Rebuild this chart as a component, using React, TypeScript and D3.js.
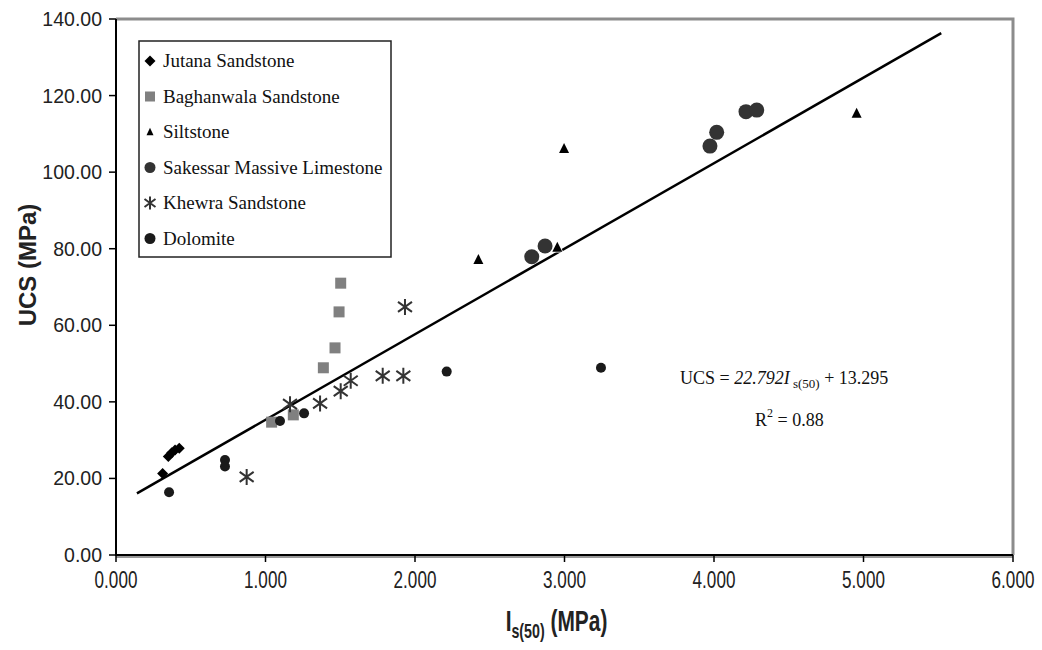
import React from "react";
import * as d3 from "d3";

const jutanaX = [0.312, 0.35, 0.373, 0.395, 0.423];
const jutanaY = [21.3, 25.7, 26.7, 27.4, 27.9];
const baghanwalaX = [1.041, 1.186, 1.387, 1.465, 1.492, 1.503];
const baghanwalaY = [34.7, 36.6, 48.9, 54.1, 63.5, 71.0];
const siltstoneX = [2.424, 2.952, 2.997, 4.954];
const siltstoneY = [77.2, 80.4, 106.2, 115.4];
const sakessarX = [2.781, 2.87, 3.973, 4.018, 4.214, 4.286];
const sakessarY = [77.9, 80.7, 106.8, 110.4, 115.8, 116.2];
const khewraX = [0.874, 1.164, 1.365, 1.503, 1.57, 1.784, 1.922, 1.933];
const khewraY = [20.4, 39.4, 39.6, 42.8, 45.5, 46.8, 46.8, 64.8];
const dolomiteX = [0.355, 0.729, 0.729, 1.097, 1.258, 2.212, 3.244];
const dolomiteY = [16.4, 24.8, 23.1, 35.0, 37.0, 47.9, 48.9];

const xTicks = [0, 1, 2, 3, 4, 5, 6];
const yTicks = [0, 20, 40, 60, 80, 100, 120, 140];
const legendNames = [
  "Jutana Sandstone",
  "Baghanwala Sandstone",
  "Siltstone",
  "Sakessar Massive Limestone",
  "Khewra Sandstone",
  "Dolomite",
];
// trend line end points as drawn in the picture
const trendX = [0.14, 5.52];
const trendY = [16.1, 136.3];

const L = 116, R = 1013, T = 19, B = 555;
const x = d3.scaleLinear().domain([0, 6]).range([L, R]);
const y = d3.scaleLinear().domain([0, 140]).range([B, T]);

const sans = "'Liberation Sans', Arial, sans-serif";
const serif = "'Liberation Serif', 'Times New Roman', serif";

function Marker({ kind, cx, cy, legend }: { kind: string; cx: number; cy: number; legend?: boolean }) {
  switch (kind) {
    case "diamond": {
      const h = 5.5;
      return <path d={`M${cx},${cy - h}L${cx + h},${cy}L${cx},${cy + h}L${cx - h},${cy}Z`} fill="#000" />;
    }
    case "square": {
      const s = legend ? 10 : 11;
      return <rect x={cx - s / 2} y={cy - s / 2} width={s} height={s} fill="#808080" />;
    }
    case "triangle": {
      const s = legend ? 7 : 10;
      const h = s * 0.9;
      return (
        <path
          d={`M${cx},${cy - h / 2 - 1}L${cx + s / 2},${cy + h / 2}L${cx - s / 2},${cy + h / 2}Z`}
          fill="#000"
          stroke="#fff"
          strokeWidth={legend ? 0 : 1.5}
          paintOrder="stroke"
        />
      );
    }
    case "bigcircle":
      return <circle cx={cx} cy={cy} r={legend ? 5.5 : 7.5} fill="#333" />;
    case "star": {
      const v = legend ? 6.5 : 8;
      const dx = legend ? 5.5 : 7;
      const dy = legend ? 4 : 5;
      return (
        <path
          d={`M${cx},${cy - v}L${cx},${cy + v}M${cx - dx},${cy - dy}L${cx + dx},${cy + dy}M${cx - dx},${cy + dy}L${cx + dx},${cy - dy}`}
          stroke="#333"
          strokeWidth={2}
          fill="none"
        />
      );
    }
    case "smallcircle":
      return <circle cx={cx} cy={cy} r={legend ? 5.5 : 5} fill="#1a1a1a" />;
    default:
      return null;
  }
}

const series = [
  { kind: "diamond", xs: jutanaX, ys: jutanaY },
  { kind: "square", xs: baghanwalaX, ys: baghanwalaY },
  { kind: "triangle", xs: siltstoneX, ys: siltstoneY },
  { kind: "bigcircle", xs: sakessarX, ys: sakessarY },
  { kind: "star", xs: khewraX, ys: khewraY },
  { kind: "smallcircle", xs: dolomiteX, ys: dolomiteY },
];

export default function App() {
  const line = d3
    .line<number>()
    .x((d) => x(trendX[d]))
    .y((d) => y(trendY[d]));
  const legX = 139, legY = 41, legW = 252, legH = 216;
  const rowY = (i: number) => 61 + i * 35.5;
  return (
    <svg width={1042} height={650} style={{ position: "absolute", left: 0, top: 0, background: "#fff" }}>
      <rect x={0} y={0} width={1042} height={650} fill="#fff" />
      <path d={`M${L},${T}L${R},${T}L${R},${B}`} fill="none" stroke="#8c8c8c" strokeWidth={3} />
      <line x1={L} x2={R} y1={B + 2} y2={B + 2} stroke="#999" strokeWidth={2} />
      <line x1={L} x2={L} y1={T} y2={B} stroke="#000" strokeWidth={2} />
      <line x1={L - 1} x2={R} y1={B} y2={B} stroke="#000" strokeWidth={2} />
      {yTicks.map((t) => (
        <g key={"y" + t}>
          <line x1={L - 7} x2={L} y1={y(t)} y2={y(t)} stroke="#000" strokeWidth={1.5} />
          <text x={L - 14} y={y(t) + 7} textAnchor="end" fontFamily={sans} fontSize={19.5} fill="#222">
            {t.toFixed(2)}
          </text>
        </g>
      ))}
      {xTicks.map((t) => (
        <g key={"x" + t}>
          <line x1={x(t)} x2={x(t)} y1={B} y2={B + 7} stroke="#000" strokeWidth={1.5} />
          <text
            transform={`translate(${x(t)},${B + 33}) scale(0.95,1.3)`}
            textAnchor="middle"
            fontFamily={sans}
            fontSize={18}
            fill="#222"
          >
            {t.toFixed(3)}
          </text>
        </g>
      ))}
      <text
        transform={`translate(36,265) rotate(-90)`}
        textAnchor="middle"
        fontFamily={sans}
        fontWeight="bold"
        fontSize={24}
        fill="#222"
      >
        UCS (MPa)
      </text>
      <text
        transform={`translate(${(L + R) / 2 - 8},631) scale(0.95,1.3)`}
        textAnchor="middle"
        fontFamily={sans}
        fontWeight="bold"
        fontSize={22}
        fill="#222"
      >
        I
        <tspan fontSize={15} dy={5}>s(50)</tspan>
        <tspan dy={-5}> (MPa)</tspan>
      </text>
      <path d={line([0, 1]) || ""} stroke="#000" strokeWidth={2.5} fill="none" />
      {series.map((s, si) =>
        s.xs.map((v, i) => <Marker key={si + "-" + i} kind={s.kind} cx={x(v)} cy={y(s.ys[i])} />)
      )}
      <rect x={legX} y={legY} width={legW} height={legH} fill="#fff" stroke="#222" strokeWidth={1.5} />
      {legendNames.map((n, i) => (
        <g key={n}>
          <Marker kind={series[i].kind} cx={150} cy={rowY(i)} legend />
          <text x={163} y={rowY(i) + 6} fontFamily={serif} fontSize={19} fill="#111">
            {n}
          </text>
        </g>
      ))}
      <text x={680} y={384} fontFamily={serif} fontSize={18} fill="#111">
        UCS = <tspan fontStyle="italic">22.792I</tspan>
        <tspan fontSize={13} dy={4}> s(50)</tspan>
        <tspan dy={-4}> + 13.295</tspan>
      </text>
      <text x={755} y={426} fontFamily={serif} fontSize={18} fill="#111">
        R<tspan fontSize={12} dy={-9}>2</tspan>
        <tspan dy={9}> = 0.88</tspan>
      </text>
    </svg>
  );
}
